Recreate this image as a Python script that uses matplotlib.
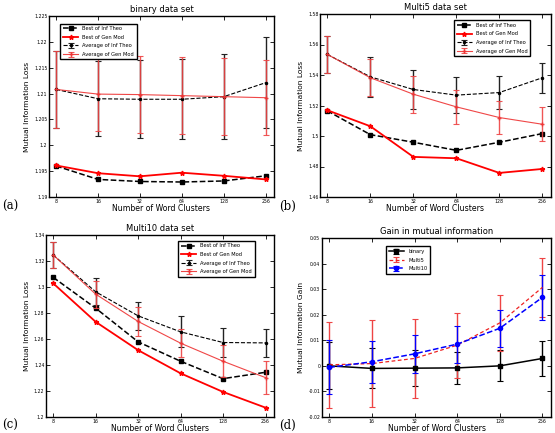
import matplotlib
matplotlib.use('Agg')
import matplotlib.pyplot as plt
from matplotlib.ticker import FixedLocator, NullLocator

clusters = [8, 16, 32, 64, 128, 256]
tick_labels = ['8', '16', '32', '64', '128', '256']

# binary data set
bin_best_it = [1.1960, 1.1934, 1.1930, 1.1929, 1.1931, 1.1941]
bin_best_gm = [1.1961, 1.1946, 1.1940, 1.1947, 1.1941, 1.1934]
bin_avg_it = [1.2108, 1.2090, 1.2089, 1.2089, 1.2094, 1.2121]
bin_avg_it_err = [0.0075, 0.0073, 0.0075, 0.0077, 0.0082, 0.0088]
bin_avg_gm = [1.2108, 1.2099, 1.2098, 1.2096, 1.2094, 1.2092]
bin_avg_gm_err = [0.0075, 0.0072, 0.0075, 0.0075, 0.0074, 0.0072]

# Multi5 data set
m5_best_it = [1.5165, 1.5009, 1.4959, 1.4906, 1.4959, 1.5016]
m5_best_gm = [1.5169, 1.5064, 1.4863, 1.4854, 1.4758, 1.4784]
m5_avg_it = [1.5535, 1.5388, 1.5305, 1.5268, 1.5285, 1.5382]
m5_avg_it_err = [0.012, 0.013, 0.013, 0.012, 0.011, 0.0097]
m5_avg_gm = [1.5535, 1.5382, 1.5274, 1.5191, 1.5121, 1.5077]
m5_avg_gm_err = [0.012, 0.012, 0.012, 0.011, 0.011, 0.011]

# Multi10 data set
m10_best_it = [1.3074, 1.2837, 1.2578, 1.2429, 1.2295, 1.2344]
m10_best_gm = [1.3028, 1.2732, 1.2514, 1.2336, 1.2193, 1.2072]
m10_avg_it = [1.3246, 1.2963, 1.2778, 1.2655, 1.2573, 1.2570]
m10_avg_it_err = [0.010, 0.0105, 0.011, 0.012, 0.011, 0.0107]
m10_avg_gm = [1.3246, 1.2945, 1.2735, 1.2568, 1.2429, 1.2303]
m10_avg_gm_err = [0.010, 0.0105, 0.011, 0.011, 0.0125, 0.0125]

# gain in mutual information
gain_binary = [0.0000, -0.0010, -0.0009, -0.0008, 0.0000, 0.0029]
gain_binary_err = [0.0092, 0.0078, 0.0070, 0.0062, 0.0061, 0.0070]
gain_m5 = [0.0004, 0.0009, 0.0029, 0.0081, 0.0168, 0.0307]
gain_m5_err = [0.0167, 0.0170, 0.0155, 0.0127, 0.0110, 0.0116]
gain_m10 = [-0.0006, 0.0016, 0.0047, 0.0085, 0.0147, 0.0268]
gain_m10_err = [0.0106, 0.0083, 0.0075, 0.0072, 0.0072, 0.0087]

W, H = 555, 433
fig = plt.figure(figsize=(W / 100, H / 100), dpi=100)


def make_axes(left, right, top, bottom):
    return fig.add_axes([left / W, 1 - bottom / H, (right - left) / W, (bottom - top) / H])


def style_axes(ax, ylim, yticks, ylabel, title):
    ax.set_xscale('log', base=2)
    ax.set_xlim(8 / 2 ** 0.17, 256 * 2 ** 0.2)
    ax.xaxis.set_major_locator(FixedLocator(clusters))
    ax.xaxis.set_minor_locator(NullLocator())
    ax.set_xticklabels(tick_labels)
    ax.set_ylim(*ylim)
    ax.set_yticks(yticks)
    ax.set_yticklabels(['%g' % round(t, 4) for t in yticks])
    ax.tick_params(direction='in', top=True, right=True, labelsize=3.3, length=3, width=0.6, pad=1.2)
    for s in ax.spines.values():
        s.set_linewidth(1.0)
    ax.set_xlabel('Number of Word Clusters', fontsize=5.6, labelpad=0)
    ax.set_ylabel(ylabel, fontsize=5.4, labelpad=3)
    ax.set_title(title, fontsize=6.0, pad=3)


def loss_panel(ax, best_it, best_gm, avg_it, avg_it_err, avg_gm, avg_gm_err, loc):
    ax.plot(clusters, best_it, 'k--s', lw=1.1, ms=2.5, label='Best of Inf Theo')
    ax.plot(clusters, best_gm, '-*', color='red', lw=1.3, ms=3.5, label='Best of Gen Mod')
    ax.errorbar(clusters, avg_it, yerr=avg_it_err, fmt='k--.', lw=0.8, ms=3,
                elinewidth=1.0, capsize=2, capthick=0.8, ecolor='#222222',
                label='Average of Inf Theo')
    ax.errorbar(clusters, avg_gm, yerr=avg_gm_err, fmt='-+', color='#ee3333', lw=0.8, ms=3,
                elinewidth=1.0, capsize=2, capthick=0.8, ecolor='#ee4444', alpha=0.9,
                label='Average of Gen Mod')
    leg = ax.legend(loc=loc, fontsize=3.7, fancybox=False, edgecolor='black',
                    framealpha=1, handlelength=3, borderpad=0.5, labelspacing=0.7)
    leg.get_frame().set_linewidth(1.0)


ax_a = make_axes(49, 274, 16, 197)
loss_panel(ax_a, bin_best_it, bin_best_gm, bin_avg_it, bin_avg_it_err,
           bin_avg_gm, bin_avg_gm_err, (0.05, 0.76))
style_axes(ax_a, (1.19, 1.225), [1.19 + 0.005 * i for i in range(8)],
           'Mutual Information Loss', 'binary data set')

ax_b = make_axes(320, 551, 14, 197)
loss_panel(ax_b, m5_best_it, m5_best_gm, m5_avg_it, m5_avg_it_err,
           m5_avg_gm, m5_avg_gm_err, (0.58, 0.77))
style_axes(ax_b, (1.46, 1.58), [1.46 + 0.02 * i for i in range(7)],
           'Mutual Information Loss', 'Multi5 data set')

ax_c = make_axes(46, 274, 235, 417)
loss_panel(ax_c, m10_best_it, m10_best_gm, m10_avg_it, m10_avg_it_err,
           m10_avg_gm, m10_avg_gm_err, (0.58, 0.77))
style_axes(ax_c, (1.2, 1.34), [1.2 + 0.02 * i for i in range(8)],
           'Mutual Information Loss', 'Multi10 data set')

ax_d = make_axes(322, 551, 238, 417)
ax_d.errorbar(clusters, gain_binary, yerr=gain_binary_err, fmt='k-s', lw=1.1, ms=2.5,
              elinewidth=1.0, capsize=2, capthick=0.8, label='binary')
ax_d.errorbar(clusters, gain_m5, yerr=gain_m5_err, fmt='-.', color='#ee2222', ms=3.5,
              ls=(0, (3, 2)), lw=0.9, elinewidth=1.0, capsize=2, capthick=0.8,
              ecolor='#ee4444', label='Multi5')
ax_d.errorbar(clusters, gain_m10, yerr=gain_m10_err, fmt='o', color='blue', ms=3,
              ls='--', lw=1.1, elinewidth=1.0, capsize=2, capthick=0.8, label='Multi10')
leg = ax_d.legend(loc=(0.28, 0.80), fontsize=3.7, fancybox=False, edgecolor='black',
                  framealpha=1, handlelength=3, borderpad=0.5, labelspacing=0.7)
leg.get_frame().set_linewidth(1.0)
style_axes(ax_d, (-0.02, 0.05), [-0.02 + 0.01 * i for i in range(8)],
           'Mutual Information Gain', 'Gain in mutual information')

for lbl, x, y in [('(a)', 2, 213), ('(b)', 279, 213), ('(c)', 2, 432), ('(d)', 279, 432)]:
    fig.text(x / W, 1 - y / H, lbl, fontsize=8.5, family='serif', va='bottom', ha='left')

fig.savefig('out.png', dpi=100)
